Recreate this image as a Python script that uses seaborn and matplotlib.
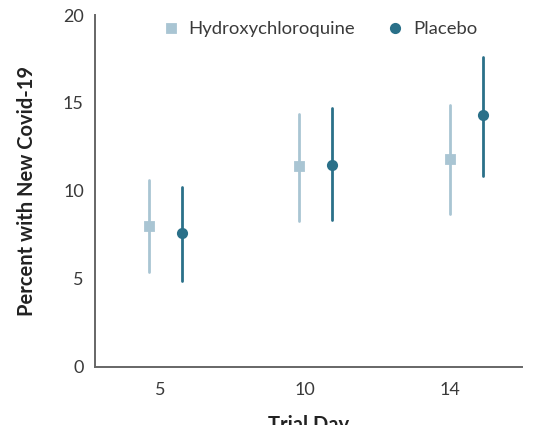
"""
Percent with new Covid-19 by trial day, hydroxychloroquine vs placebo.
"""

import matplotlib
matplotlib.use("Agg")
import matplotlib.pyplot as plt
import numpy as np
import pandas as pd
import seaborn as sns

days = ["5", "10", "14"]
groups = ["Hydroxychloroquine", "Placebo"]
hcq_est = [8.0, 11.4, 11.8]
hcq_low = [5.4, 8.3, 8.7]
hcq_high = [10.6, 14.4, 14.9]
pbo_est = [7.6, 11.5, 14.3]
pbo_low = [4.9, 8.35, 10.85]
pbo_high = [10.2, 14.7, 17.6]

# long table: low / estimate / high per point, so that median = estimate
# and a 100% percentile interval = the confidence interval
rows = []
for g, est, low, high in [
    (groups[0], hcq_est, hcq_low, hcq_high),
    (groups[1], pbo_est, pbo_low, pbo_high),
]:
    for d, e, lo, hi in zip(days, est, low, high):
        for v in (lo, e, hi):
            rows.append({"day": d, "group": g, "pct": v})
data = pd.DataFrame(rows)

sns.set_style("white")
plt.rcParams["font.family"] = ["Lato", "DejaVu Sans"]

fig = plt.figure(figsize=(5.41, 4.25), dpi=100)
ax = fig.add_axes([0.1756, 0.1365, 0.7894, 0.8282])

palette = {"Hydroxychloroquine": "#a9c5d3", "Placebo": "#2a7089"}
sns.pointplot(
    data=data,
    x="day",
    y="pct",
    hue="group",
    order=days,
    hue_order=groups,
    estimator="median",
    errorbar=("pi", 100),
    palette=palette,
    markers=["s", "o"],
    linestyles="none",
    dodge=0.22,
    markersize=6,
    err_kws={"linewidth": 2.0},
    ax=ax,
)

ax.set_xlim(-0.47, 2.373)
ax.set_ylim(0, 20)
ax.set_yticks([0, 5, 10, 15, 20])
ax.set_xticks(np.arange(3) - np.array([0.037, 0.073, 0.107]))
ax.set_xticklabels(days)

for side in ("top", "right"):
    ax.spines[side].set_visible(False)
for side in ("left", "bottom"):
    ax.spines[side].set_color("#666666")
    ax.spines[side].set_linewidth(1.4)

ax.tick_params(axis="both", colors="#666666", labelcolor="#3a3a3a",
               labelsize=13, width=1.2)
ax.tick_params(axis="y", length=6, pad=2)
ax.tick_params(axis="x", length=6, pad=5)

ax.set_ylabel("Percent with New Covid-19", fontsize=14.5, fontweight="bold",
              color="#222222", labelpad=19)
ax.set_xlabel("Trial Day", fontsize=14.5, fontweight="bold",
              color="#222222", labelpad=12)

leg = ax.legend(
    loc="upper center",
    bbox_to_anchor=(0.525, 1.03),
    ncol=2,
    frameon=False,
    fontsize=13.3,
    handletextpad=0.45,
    columnspacing=1.7,
    handlelength=1.0,
)
for t in leg.get_texts():
    t.set_color("#3a3a3a")

fig.savefig("out.png", dpi=100)
